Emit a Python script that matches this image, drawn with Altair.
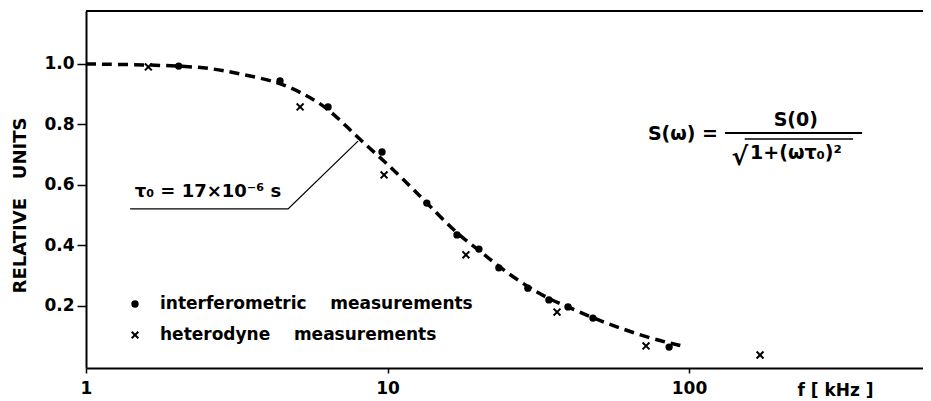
import altair as alt
import pandas as pd

FONT = "DejaVu Sans"

# interferometric measurements (dots): frequency in kHz, relative units
interf_f = [2.03, 4.40, 6.35, 9.59, 13.5, 17.0, 20.1, 23.4, 29.2, 34.3, 39.7, 48.0, 85.9]
interf_s = [0.993, 0.944, 0.858, 0.709, 0.54, 0.435, 0.388, 0.326, 0.259, 0.22, 0.197, 0.16, 0.064]

# heterodyne measurements (crosses)
het_f = [1.61, 5.13, 9.74, 18.2, 36.5, 72.0, 172.0]
het_s = [0.99, 0.858, 0.633, 0.369, 0.18, 0.068, 0.038]

# dashed curve
curve_f = [1.0, 1.61, 2.03, 2.58, 3.24, 4.40, 5.33, 6.35, 7.98, 9.74, 12.06, 13.52, 17.0,
           20.1, 23.4, 29.2, 34.3, 39.7, 48.0, 59.0, 75.4, 94.8]
curve_s = [1.0, 0.997, 0.993, 0.987, 0.967, 0.940, 0.898, 0.855, 0.755, 0.680, 0.59, 0.54,
           0.438, 0.385, 0.329, 0.263, 0.223, 0.197, 0.16, 0.127, 0.091, 0.068]

# leader line for the tau annotation
lead_f = [1.40, 4.68, 7.98]
lead_s = [0.521, 0.521, 0.745]

GAP = "\u00a0" * 4
legend_labels = ["interferometric" + GAP + "measurements", "heterodyne" + GAP + "measurements"]
y_title = "RELATIVE" + "\u00a0" * 3 + "UNITS"

W, H = 837, 357

pts_i = pd.DataFrame({"f": interf_f, "s": interf_s})
pts_h = pd.DataFrame({"f": het_f, "s": het_s})
curve = pd.DataFrame({"f": curve_f, "s": curve_s})
lead = pd.DataFrame({"f": lead_f, "s": lead_s, "o": list(range(len(lead_f)))})

xscale = alt.Scale(type="log", domain=[1, 597.0], nice=False)
yscale = alt.Scale(domain=[-0.005, 1.175], nice=False, zero=False)

xaxis = alt.Axis(values=[1, 10, 100], labelExpr="datum.value", grid=False,
                 tickSize=5, tickWidth=1.5, domainWidth=2, labelPadding=7,
                 labelFont=FONT, labelFontSize=17, labelFontWeight="bold",
                 title="f [ kHz ]", titleFont=FONT, titleFontSize=17, titleFontWeight="bold",
                 titleX=711, titleY=22, titleAlign="left", titleBaseline="middle",
                 labelFlush=False)
yaxis = alt.Axis(values=[0.2, 0.4, 0.6, 0.8, 1.0], format=".1f", grid=False,
                 tickSize=9, tickWidth=1.5, domainWidth=2, labelPadding=3,
                 labelFont=FONT, labelFontSize=17, labelFontWeight="bold",
                 title=y_title, titleFont=FONT, titleFontSize=18, titleFontWeight="bold",
                 titleX=-66, titleY=194, titleAngle=270, titleAlign="center",
                 titleBaseline="middle")

X = alt.X("f:Q", scale=xscale, axis=xaxis)
Y = alt.Y("s:Q", scale=yscale, axis=yaxis)

CROSS = "M-1.3,-1.3L1.3,1.3M-1.3,1.3L1.3,-1.3"

line = alt.Chart(curve).mark_line(
    color="black", strokeWidth=3.5, strokeDash=[10, 6], interpolate="basis"
).encode(x=X, y=Y)

dots = alt.Chart(pts_i).mark_point(
    shape="circle", filled=True, fill="black", stroke="black", strokeWidth=1.5, size=34, opacity=1
).encode(x="f:Q", y="s:Q")

crosses = alt.Chart(pts_h).mark_point(
    shape=CROSS, filled=False, stroke="black", strokeWidth=2, size=28, opacity=1
).encode(x="f:Q", y="s:Q")

leader = alt.Chart(lead).mark_line(color="black", strokeWidth=1.3).encode(
    x="f:Q", y="s:Q", order="o:Q")

# legend (drawn in the plot, like the original)
one = pd.DataFrame({"a": [0]})
leg_dot = alt.Chart(one).mark_point(
    shape="circle", filled=True, fill="black", stroke="black", strokeWidth=1.5, size=34, opacity=1
).encode(x=alt.value(49), y=alt.value(293))
leg_cross = alt.Chart(one).mark_point(
    shape=CROSS, filled=False, stroke="black", strokeWidth=2, size=26, opacity=1
).encode(x=alt.value(49), y=alt.value(324))
leg_txt1 = alt.Chart(pd.DataFrame({"t": [legend_labels[0]]})).mark_text(
    align="left", baseline="middle", font=FONT, fontSize=17, fontWeight="bold", color="black"
).encode(x=alt.value(74), y=alt.value(293), text="t:N")
leg_txt2 = alt.Chart(pd.DataFrame({"t": [legend_labels[1]]})).mark_text(
    align="left", baseline="middle", font=FONT, fontSize=17, fontWeight="bold", color="black"
).encode(x=alt.value(74), y=alt.value(324), text="t:N")

# annotation texts
tau_txt = alt.Chart(pd.DataFrame({"f": [1.45], "s": [0.577], "t": ["τ₀ = 17×10⁻⁶ s"]})).mark_text(
    align="left", baseline="middle", font=FONT, fontSize=18, fontWeight="bold", color="black"
).encode(x="f:Q", y="s:Q", text="t:N")

lhs = alt.Chart(pd.DataFrame({"f": [124.8], "s": [0.769], "t": ["S(ω) ="]})).mark_text(
    align="right", baseline="middle", font=FONT, fontSize=19, fontWeight="bold", color="black"
).encode(x="f:Q", y="s:Q", text="t:N")

num = alt.Chart(pd.DataFrame({"f": [226.0], "s": [0.815], "t": ["S(0)"]})).mark_text(
    align="center", baseline="middle", font=FONT, fontSize=19, fontWeight="bold", color="black"
).encode(x="f:Q", y="s:Q", text="t:N")

root = alt.Chart(pd.DataFrame({"f": [157.0], "s": [0.693], "t": ["√"]})).mark_text(
    align="right", baseline="middle", font=FONT, fontSize=25, fontWeight="bold", color="black"
).encode(x="f:Q", y="s:Q", text="t:N")

den = alt.Chart(pd.DataFrame({"f": [159.4], "s": [0.706], "t": ["1+(ωτ₀)²"]})).mark_text(
    align="left", baseline="middle", font=FONT, fontSize=19, fontWeight="bold", color="black"
).encode(x="f:Q", y="s:Q", text="t:N")

bar = alt.Chart(pd.DataFrame({"f": [131.6], "f2": [375.0], "s": [0.772]})).mark_rule(
    color="black", strokeWidth=2).encode(x="f:Q", x2="f2:Q", y="s:Q")

vinc = alt.Chart(pd.DataFrame({"f": [153.0], "f2": [350.0], "s": [0.752]})).mark_rule(
    color="black", strokeWidth=1.6).encode(x="f:Q", x2="f2:Q", y="s:Q")

top = alt.Chart(one).mark_rule(color="black", strokeWidth=2).encode(
    x=alt.value(0), x2=alt.value(W), y=alt.value(0))

chart = alt.layer(line, leader, dots, crosses, leg_dot, leg_cross, leg_txt1, leg_txt2,
                  tau_txt, lhs, num, root, den, bar, vinc, top).properties(
    width=W, height=H,
    autosize=alt.AutoSizeParams(type="none"),
    padding={"left": 78, "top": 3, "right": 0, "bottom": 33},
).configure_view(stroke=None).configure_axis(
    domainColor="black", tickColor="black", labelColor="black", titleColor="black"
)

chart.save("out.html", embed_options={"renderer": "svg", "actions": False})
